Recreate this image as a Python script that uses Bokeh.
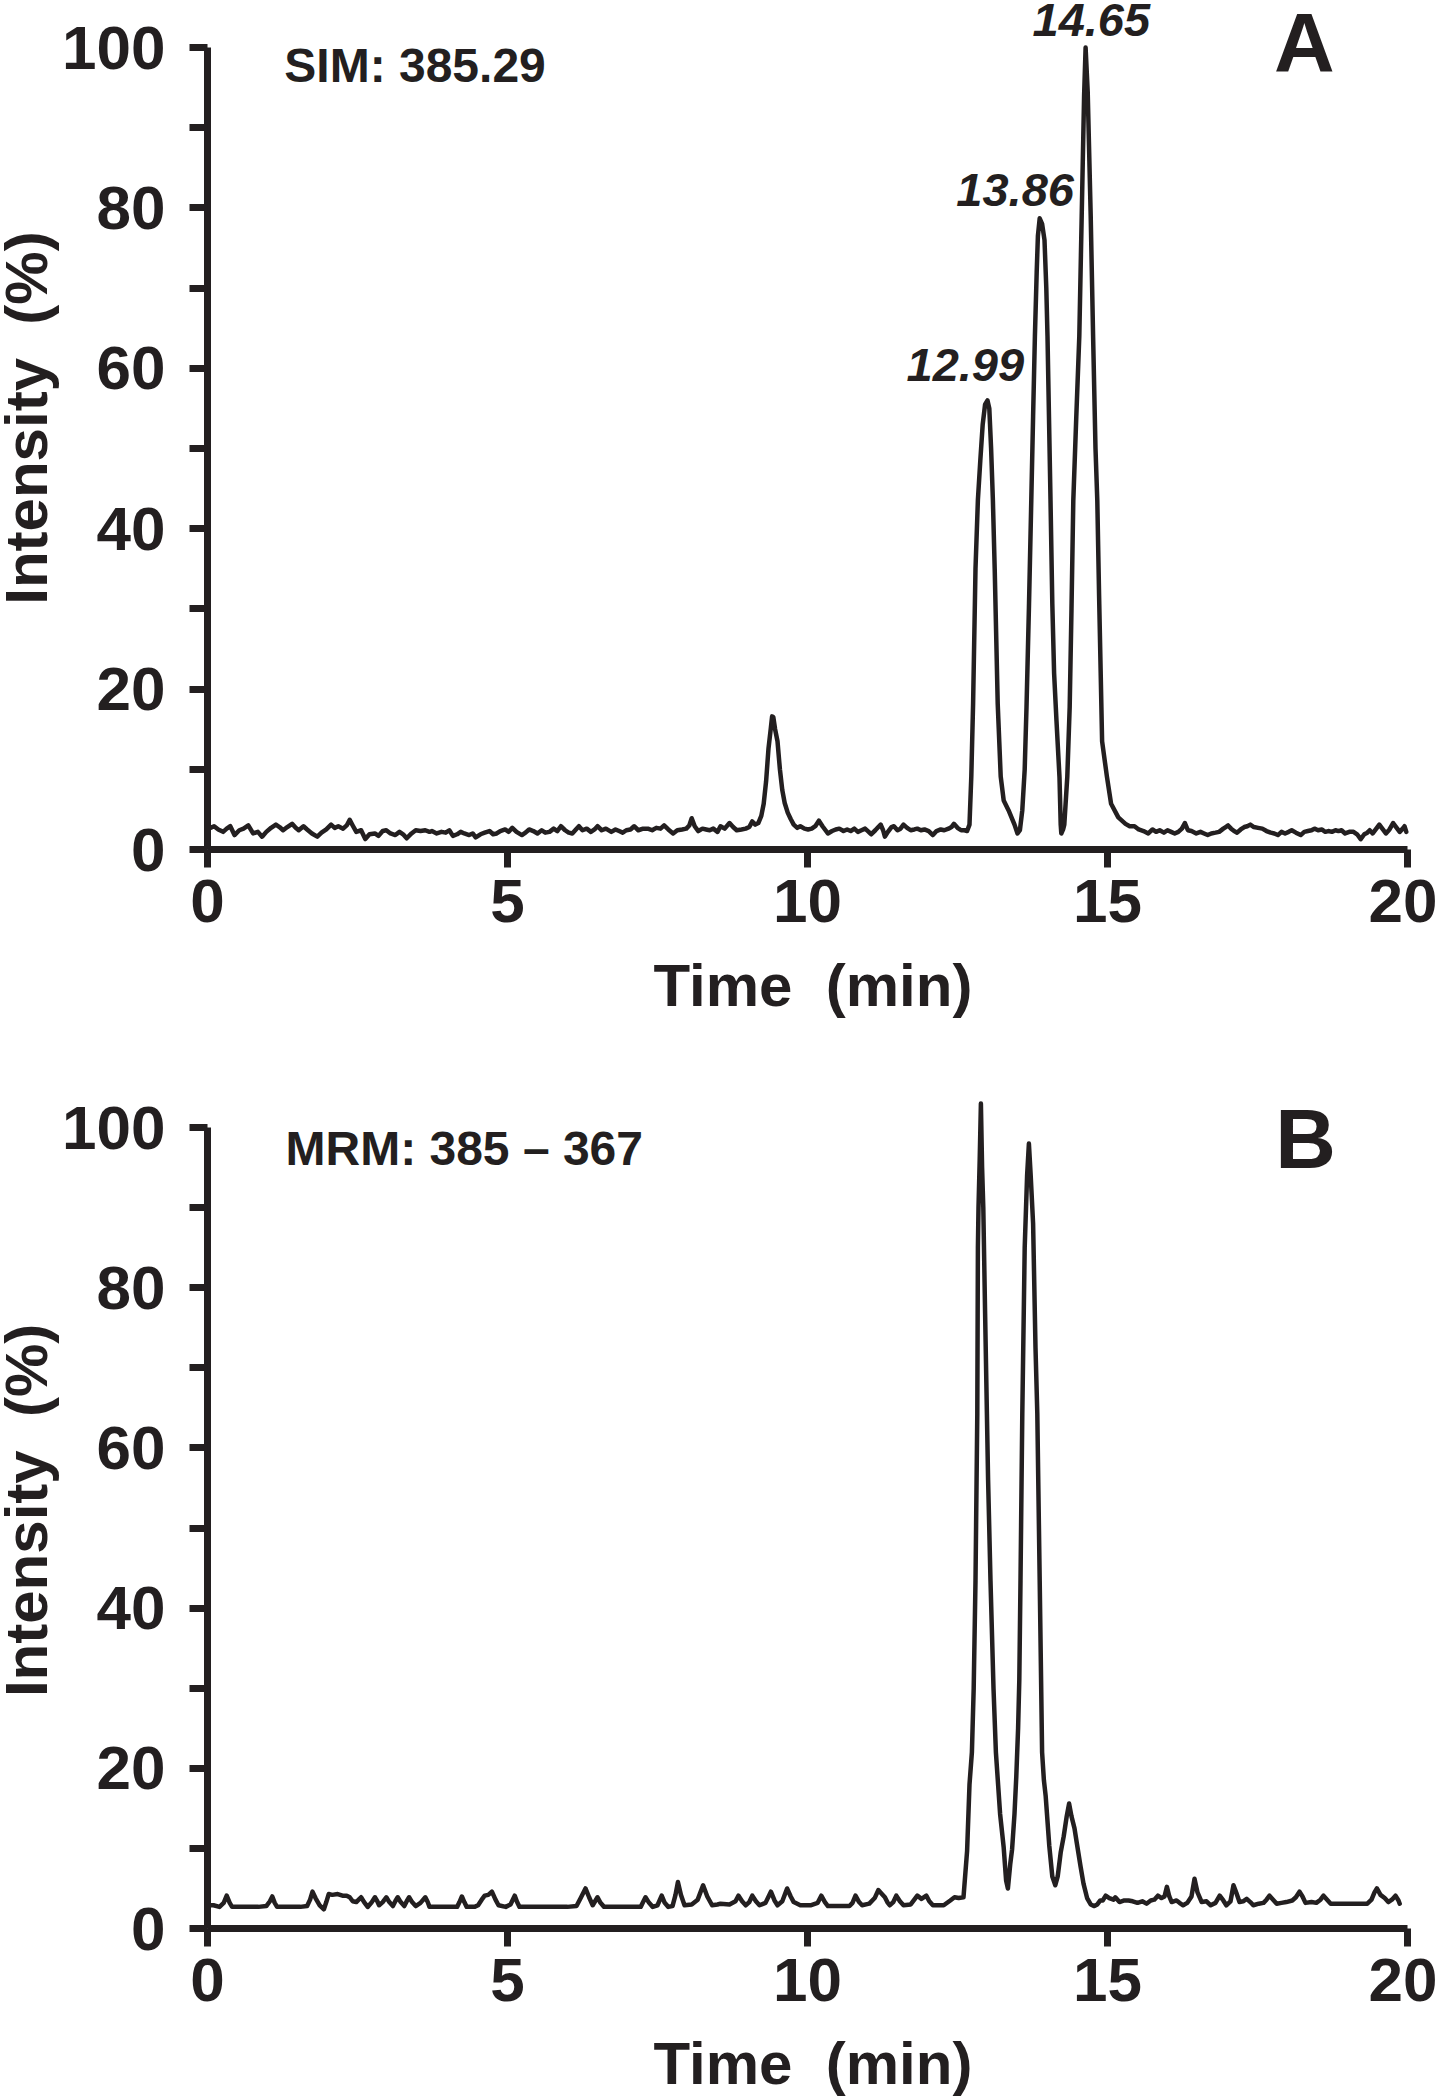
import math
from bokeh.plotting import figure
from bokeh.models import Range1d, Label, FixedTicker
from bokeh.layouts import column
from bokeh.embed import file_html
from bokeh.resources import INLINE

INK = "#231f20"
FONT = "Liberation Sans"

# ---------------- data ----------------
x_ticks = [0, 5, 10, 15, 20]
y_ticks = [0, 20, 40, 60, 80, 100]
y_minor_ticks = [10, 30, 50, 70, 90]

a_title = "SIM: 385.29"
b_title = "MRM: 385 \u2013 367"
x_title = "Time\u00a0\u00a0(min)"
y_title = "Intensity\u00a0\u00a0(%)"
a_peak_times = [12.99, 13.86, 14.65]
a_peak_heights = [56.0, 78.7, 100.0]

a_time = [
    0.02, 0.11, 0.18, 0.26, 0.32, 0.38, 0.45, 0.53, 0.60, 0.68,
    0.76, 0.84, 0.91, 0.98, 1.06, 1.14, 1.20, 1.26, 1.33, 1.41,
    1.47, 1.52, 1.60, 1.66, 1.74, 1.83, 1.90, 1.98, 2.06, 2.12,
    2.18, 2.26, 2.32, 2.37, 2.42, 2.48, 2.56, 2.63, 2.70, 2.79,
    2.85, 2.92, 2.98, 3.05, 3.13, 3.20, 3.26, 3.32, 3.40, 3.47,
    3.55, 3.63, 3.70, 3.74, 3.82, 3.90, 3.97, 4.03, 4.09, 4.16,
    4.22, 4.28, 4.36, 4.42, 4.47, 4.55, 4.62, 4.70, 4.76, 4.82,
    4.88, 4.96, 5.02, 5.08, 5.15, 5.24, 5.30, 5.36, 5.43, 5.50,
    5.57, 5.63, 5.70, 5.77, 5.83, 5.89, 5.96, 6.02, 6.08, 6.14,
    6.19, 6.25, 6.32, 6.39, 6.45, 6.50, 6.57, 6.64, 6.73, 6.80,
    6.86, 6.92, 6.98, 7.05, 7.11, 7.18, 7.26, 7.34, 7.41, 7.48,
    7.55, 7.61, 7.68, 7.76, 7.83, 7.91, 7.98, 8.03, 8.07, 8.12,
    8.18, 8.25, 8.31, 8.37, 8.43, 8.50, 8.55, 8.62, 8.70, 8.76,
    8.82, 8.90, 8.97, 9.03, 9.08, 9.13, 9.18, 9.23, 9.27, 9.31,
    9.35, 9.39, 9.41, 9.43, 9.46, 9.50, 9.54, 9.58, 9.62, 9.67,
    9.72, 9.77, 9.83, 9.88, 9.95, 10.01, 10.07, 10.13, 10.19, 10.25,
    10.30, 10.34, 10.41, 10.47, 10.53, 10.60, 10.66, 10.72, 10.78, 10.84,
    10.90, 10.96, 11.02, 11.06, 11.13, 11.18, 11.22, 11.26, 11.29, 11.34,
    11.40, 11.44, 11.50, 11.55, 11.60, 11.66, 11.72, 11.78, 11.83, 11.89,
    11.95, 12.02, 12.09, 12.15, 12.22, 12.28, 12.35, 12.40, 12.44, 12.50,
    12.56, 12.62, 12.66, 12.70, 12.73, 12.76, 12.80, 12.84, 12.88, 12.92,
    12.96, 13.00, 13.03, 13.06, 13.09, 13.12, 13.17, 13.22, 13.27, 13.35,
    13.45, 13.50, 13.54, 13.58, 13.62, 13.65, 13.69, 13.73, 13.76, 13.79,
    13.82, 13.84, 13.87, 13.91, 13.95, 13.98, 14.00, 14.05, 14.08, 14.11,
    14.15, 14.20, 14.22, 14.23, 14.26, 14.28, 14.33, 14.37, 14.40, 14.43,
    14.48, 14.53, 14.57, 14.61, 14.635, 14.67, 14.72, 14.76, 14.80, 14.83,
    14.86, 14.91, 14.99, 15.06, 15.18, 15.30, 15.37, 15.45, 15.52, 15.60,
    15.68, 15.75, 15.81, 15.87, 15.94, 16.00, 16.06, 16.12, 16.18, 16.24,
    16.29, 16.34, 16.40, 16.48, 16.55, 16.61, 16.67, 16.73, 16.80, 16.86,
    16.93, 16.97, 17.01, 17.06, 17.11, 17.16, 17.22, 17.28, 17.33, 17.38,
    17.44, 17.51, 17.58, 17.65, 17.72, 17.78, 17.84, 17.90, 17.96, 18.02,
    18.07, 18.14, 18.22, 18.28, 18.34, 18.40, 18.45, 18.51, 18.57, 18.63,
    18.68, 18.74, 18.80, 18.85, 18.90, 18.96, 19.03, 19.10, 19.16, 19.22,
    19.28, 19.33, 19.37, 19.42, 19.48, 19.53, 19.58, 19.64, 19.70, 19.76,
    19.81, 19.87, 19.92, 19.95, 19.98,
]
a_intensity = [
    2.6, 2.9, 2.5, 2.2, 2.6, 2.9, 1.8, 2.4, 2.6, 3.0,
    2.0, 2.2, 1.6, 2.2, 2.7, 3.1, 2.8, 2.4, 2.8, 3.2,
    2.7, 2.4, 2.9, 2.5, 2.0, 1.6, 2.1, 2.5, 3.1, 2.7,
    2.9, 2.6, 3.0, 3.7, 3.0, 2.2, 2.4, 1.3, 1.9, 2.0,
    1.7, 2.3, 2.4, 2.0, 1.8, 2.2, 1.9, 1.4, 2.0, 2.4,
    2.3, 2.4, 2.2, 2.3, 2.0, 2.2, 2.1, 2.4, 1.7, 1.9,
    2.2, 2.0, 1.8, 2.0, 1.5, 1.9, 2.1, 2.3, 1.9, 2.0,
    2.3, 2.5, 2.2, 2.7, 2.2, 1.8, 2.1, 2.5, 2.3, 2.0,
    2.4, 2.1, 2.2, 2.6, 2.3, 2.9, 2.4, 2.1, 2.0, 2.5,
    2.9, 2.4, 2.6, 2.2, 2.5, 2.9, 2.4, 2.6, 2.2, 2.5,
    2.3, 2.1, 2.4, 2.5, 2.9, 2.4, 2.6, 2.6, 2.4, 2.7,
    2.6, 3.0, 2.5, 2.0, 2.4, 2.5, 2.6, 3.0, 3.9, 2.9,
    2.3, 2.6, 2.5, 2.4, 2.6, 2.2, 2.9, 2.6, 3.3, 2.8,
    2.4, 2.5, 2.6, 2.8, 3.5, 3.1, 3.3, 4.2, 5.7, 8.5,
    12.6, 15.2, 16.6, 16.5, 15.0, 13.5, 10.0, 7.4, 5.8, 4.6,
    3.8, 3.1, 2.7, 2.9, 2.6, 2.5, 2.6, 2.9, 3.6, 2.9,
    2.4, 2.0, 2.3, 2.5, 2.6, 2.3, 2.5, 2.3, 2.6, 2.2,
    2.4, 2.6, 2.2, 1.9, 2.4, 2.8, 3.1, 2.4, 1.6, 2.2,
    2.8, 2.9, 2.4, 2.6, 3.1, 2.7, 2.4, 2.5, 2.6, 2.4,
    2.5, 2.3, 1.8, 2.3, 2.5, 2.4, 2.6, 2.8, 3.2, 2.7,
    2.4, 2.4, 2.3, 3.1, 9.1, 18.2, 35.0, 43.6, 48.5, 53.0,
    55.5, 56.0, 55.0, 50.0, 43.5, 35.0, 18.2, 9.1, 6.1, 4.9,
    3.1, 2.0, 2.4, 4.9, 10.0, 17.7, 30.0, 43.6, 54.0, 64.0,
    72.0, 76.5, 78.7, 78.0, 76.0, 70.0, 64.0, 43.6, 30.7, 22.0,
    16.0, 9.0, 3.1, 2.0, 2.5, 3.1, 9.1, 17.8, 30.0, 43.5,
    54.0, 64.0, 79.0, 94.0, 100.0, 94.5, 79.0, 64.0, 50.0, 43.5,
    31.6, 13.5, 9.1, 5.7, 4.0, 3.2, 2.9, 2.9, 2.5, 2.3,
    2.0, 2.5, 2.2, 2.4, 2.1, 2.4, 2.2, 2.0, 2.2, 2.6,
    3.3, 2.4, 2.3, 2.0, 2.2, 2.0, 1.8, 2.0, 2.1, 2.2,
    2.6, 2.8, 3.0, 2.6, 2.3, 2.1, 2.5, 2.8, 2.9, 3.1,
    2.8, 2.7, 2.6, 2.3, 2.1, 2.0, 1.8, 2.2, 2.0, 2.2,
    2.4, 2.1, 1.8, 2.2, 2.3, 2.4, 2.6, 2.4, 2.5, 2.2,
    2.3, 2.2, 2.4, 2.3, 2.4, 2.0, 2.2, 2.2, 1.9, 1.3,
    1.9, 2.1, 2.4, 2.0, 2.6, 3.1, 2.6, 2.0, 2.5, 3.3,
    2.8, 2.2, 2.6, 2.9, 2.2,
]

b_time = [
    0.02, 0.10, 0.20, 0.27, 0.32, 0.37, 0.41, 0.55, 0.70, 0.85,
    0.98, 1.04, 1.08, 1.12, 1.16, 1.35, 1.55, 1.66, 1.71, 1.75,
    1.80, 1.87, 1.94, 1.98, 2.02, 2.08, 2.17, 2.25, 2.32, 2.37,
    2.42, 2.48, 2.52, 2.56, 2.61, 2.67, 2.73, 2.79, 2.83, 2.86,
    2.92, 2.98, 3.03, 3.09, 3.13, 3.17, 3.22, 3.28, 3.32, 3.36,
    3.41, 3.47, 3.55, 3.63, 3.67, 3.70, 3.85, 4.00, 4.16, 4.20,
    4.24, 4.28, 4.32, 4.45, 4.51, 4.57, 4.62, 4.68, 4.74, 4.80,
    4.85, 4.97, 5.05, 5.12, 5.16, 5.20, 5.40, 5.60, 5.80, 6.00,
    6.15, 6.22, 6.30, 6.36, 6.42, 6.46, 6.50, 6.55, 6.61, 6.80,
    7.00, 7.22, 7.26, 7.30, 7.36, 7.42, 7.50, 7.57, 7.62, 7.68,
    7.75, 7.80, 7.84, 7.89, 7.95, 8.07, 8.17, 8.26, 8.33, 8.41,
    8.50, 8.55, 8.70, 8.80, 8.85, 8.91, 8.97, 9.03, 9.08, 9.14,
    9.20, 9.30, 9.39, 9.45, 9.50, 9.58, 9.66, 9.72, 9.77, 9.88,
    10.05, 10.17, 10.23, 10.29, 10.34, 10.50, 10.70, 10.75, 10.80, 10.86,
    10.91, 11.03, 11.12, 11.18, 11.24, 11.29, 11.33, 11.37, 11.43, 11.48,
    11.54, 11.60, 11.72, 11.78, 11.83, 11.90, 11.98, 12.03, 12.09, 12.20,
    12.27, 12.38, 12.45, 12.52, 12.60, 12.66, 12.70, 12.74, 12.77, 12.80,
    12.83, 12.84, 12.85, 12.87, 12.89, 12.91, 12.93, 12.96, 12.99, 13.01,
    13.05, 13.10, 13.14, 13.21, 13.27, 13.31, 13.34, 13.38, 13.41, 13.45,
    13.48, 13.51, 13.53, 13.55, 13.58, 13.62, 13.66, 13.69, 13.72, 13.76,
    13.80, 13.83, 13.87, 13.91, 13.94, 13.97, 14.03, 14.08, 14.13, 14.17,
    14.22, 14.27, 14.32, 14.36, 14.40, 14.45, 14.49, 14.55, 14.60, 14.66,
    14.72, 14.78, 14.83, 14.88, 14.92, 14.97, 15.03, 15.10, 15.13, 15.20,
    15.28, 15.35, 15.42, 15.50, 15.58, 15.65, 15.72, 15.78, 15.84, 15.90,
    15.95, 15.99, 16.03, 16.07, 16.15, 16.20, 16.26, 16.33, 16.40, 16.45,
    16.50, 16.57, 16.65, 16.72, 16.80, 16.87, 16.93, 16.98, 17.05, 17.10,
    17.15, 17.20, 17.26, 17.32, 17.38, 17.43, 17.52, 17.60, 17.65, 17.70,
    17.76, 17.82, 17.90, 17.98, 18.08, 18.14, 18.20, 18.25, 18.30, 18.40,
    18.48, 18.55, 18.60, 18.66, 18.72, 18.85, 19.00, 19.15, 19.33, 19.40,
    19.45, 19.49, 19.55, 19.62, 19.68, 19.74, 19.80, 19.85, 19.87,
]
b_intensity = [
    2.9, 2.9, 2.7, 3.2, 4.1, 3.2, 2.7, 2.7, 2.7, 2.7,
    2.8, 3.4, 4.0, 3.2, 2.7, 2.7, 2.7, 2.8, 3.6, 4.6,
    3.8, 2.9, 2.4, 3.3, 4.3, 4.2, 4.3, 4.1, 4.1, 3.9,
    3.4, 3.3, 3.6, 3.9, 3.3, 2.7, 3.2, 3.9, 3.4, 2.9,
    3.3, 3.9, 3.3, 2.8, 3.4, 3.9, 3.3, 2.8, 3.4, 3.9,
    3.3, 2.8, 3.2, 3.9, 3.3, 2.7, 2.7, 2.7, 2.7, 3.3,
    4.0, 3.3, 2.7, 2.7, 2.9, 3.6, 4.1, 4.2, 4.6, 3.6,
    2.9, 2.7, 3.0, 4.1, 3.3, 2.7, 2.7, 2.7, 2.7, 2.7,
    2.8, 3.8, 5.0, 3.9, 2.9, 3.4, 3.9, 3.2, 2.7, 2.7,
    2.7, 2.7, 3.3, 3.9, 3.2, 2.7, 2.9, 4.1, 3.2, 2.7,
    2.8, 4.2, 5.8, 4.2, 2.9, 3.0, 3.6, 5.4, 4.0, 2.9,
    3.0, 3.1, 3.0, 3.4, 4.1, 3.4, 2.9, 3.3, 4.1, 3.4,
    2.9, 3.2, 4.6, 3.5, 2.9, 3.4, 5.0, 4.0, 3.3, 2.9,
    2.9, 3.2, 4.1, 3.3, 2.8, 2.8, 2.8, 3.2, 4.1, 3.3,
    2.9, 3.1, 3.8, 4.8, 4.3, 3.9, 3.3, 2.9, 3.3, 4.1,
    3.4, 2.9, 3.0, 3.6, 4.1, 3.7, 4.1, 3.4, 2.9, 2.9,
    2.9, 3.5, 3.9, 3.8, 3.9, 9.7, 18.0, 22.0, 30.0, 43.4,
    64.3, 85.0, 90.0, 96.0, 103.0, 95.0, 90.0, 76.8, 64.3, 56.0,
    43.4, 30.0, 22.0, 14.3, 10.1, 6.0, 5.0, 8.1, 9.9, 14.3,
    19.0, 25.0, 31.0, 43.4, 64.3, 85.0, 94.0, 98.0, 94.0, 88.0,
    72.5, 64.3, 43.4, 22.0, 18.5, 16.5, 10.3, 6.5, 5.4, 6.5,
    9.5, 11.5, 14.0, 15.6, 14.0, 12.5, 10.6, 7.8, 5.6, 3.8,
    3.0, 2.8, 3.0, 3.5, 3.5, 4.1, 3.8, 3.6, 3.9, 3.3,
    3.5, 3.5, 3.4, 3.2, 3.4, 3.1, 3.5, 3.6, 4.1, 3.8,
    4.0, 5.2, 4.0, 3.3, 3.5, 3.2, 2.9, 3.2, 4.0, 6.2,
    4.5, 3.3, 3.4, 2.9, 3.2, 4.1, 3.5, 2.9, 3.4, 5.4,
    4.4, 3.3, 3.4, 3.7, 3.3, 2.9, 3.1, 3.2, 3.6, 4.1,
    3.6, 3.1, 3.2, 3.3, 3.5, 3.9, 4.6, 4.0, 3.2, 3.3,
    3.2, 3.6, 4.1, 3.6, 3.1, 3.1, 3.1, 3.1, 3.1, 3.6,
    4.5, 5.0, 4.2, 3.8, 3.3, 3.6, 4.1, 3.5, 3.1,
]

assert len(a_time) == len(a_intensity)
assert len(b_time) == len(b_intensity)

PX_PER_MIN = 60.0       # horizontal scale
LEFT_PX = 207           # canvas x of t = 0


def make_panel(height, axis_px, px_per_unit, t, y):
    """Frame fills the whole canvas; axes are pinned at t = 0 and intensity = 0."""
    x_start = -LEFT_PX / PX_PER_MIN
    x_end = (1437 - LEFT_PX) / PX_PER_MIN
    y_end = axis_px / px_per_unit
    y_start = -(height - axis_px) / px_per_unit
    p = figure(width=1437, height=height,
               x_range=Range1d(x_start, x_end), y_range=Range1d(y_start, y_end),
               output_backend="svg", toolbar_location=None,
               min_border_left=0, min_border_right=0,
               min_border_top=0, min_border_bottom=0)
    p.outline_line_color = None
    p.grid.visible = False
    p.background_fill_color = "white"
    p.border_fill_color = "white"
    p.line(t, y, line_color=INK, line_width=4.5, line_join="round", line_cap="round")

    xa = p.xaxis[0]
    ya = p.yaxis[0]
    xa.fixed_location = 0
    ya.fixed_location = 0
    xa.ticker = FixedTicker(ticks=x_ticks, minor_ticks=[])
    ya.ticker = FixedTicker(ticks=y_ticks, minor_ticks=y_minor_ticks)
    xa.bounds = (0, 20)
    ya.bounds = (0, 100)
    for ax in (xa, ya):
        ax.axis_line_width = 7
        ax.axis_line_color = INK
        ax.major_tick_line_width = 7
        ax.major_tick_line_color = INK
        ax.major_tick_out = 18
        ax.major_tick_in = 0
        ax.minor_tick_line_width = 7
        ax.minor_tick_line_color = INK
        ax.minor_tick_out = 18
        ax.minor_tick_in = 0
        ax.major_label_text_font = FONT
        ax.major_label_text_font_size = "62px"
        ax.major_label_text_font_style = "bold"
        ax.major_label_text_color = INK
    ya.major_label_standoff = 24
    xa.major_label_standoff = 12
    return p


def add_text(p, x, y, text, size, style="bold", align="left", angle=0.0):
    # anchor is the vertical centre of the capital letters
    p.add_layout(Label(x=x, y=y, text=text, text_font=FONT, text_font_size=size,
                       text_font_style=style, text_color=INK, text_align=align,
                       text_baseline="alphabetic", angle=angle))


# Panel A: x axis at canvas y = 849, 8.02 px per %
pa = make_panel(1080, 849, 8.02, a_time, a_intensity)
add_text(pa, 1.28, 97.8, a_title, "48px")
add_text(pa, 18.28, 100.6, "A", "84px", align="center")
label_dx = [-0.36, -0.40, 0.08]
label_dy = [4.4, 3.5, 3.4]
for tm, h, dx, dy in zip(a_peak_times, a_peak_heights, label_dx, label_dy):
    add_text(pa, tm + dx, h + dy, f"{tm:.2f}", "47px", style="bold italic", align="center")
add_text(pa, -3.02, 53.8, y_title, "60px", align="center", angle=math.pi / 2)
add_text(pa, 10.09, -16.9, x_title, "60px", align="center")

# Panel B: canvas starts at page y = 1080; x axis at canvas y = 848, 8.01 px per %
pb = make_panel(1020, 848, 8.01, b_time, b_intensity)
add_text(pb, 1.30, 97.4, b_title, "48px")
add_text(pb, 18.30, 98.6, "B", "84px", align="center")
add_text(pb, -3.02, 52.2, y_title, "60px", align="center", angle=math.pi / 2)
add_text(pb, 10.09, -16.9, x_title, "60px", align="center")

layout = column(pa, pb, spacing=0)
open("out.html", "w").write(file_html(layout, INLINE))
